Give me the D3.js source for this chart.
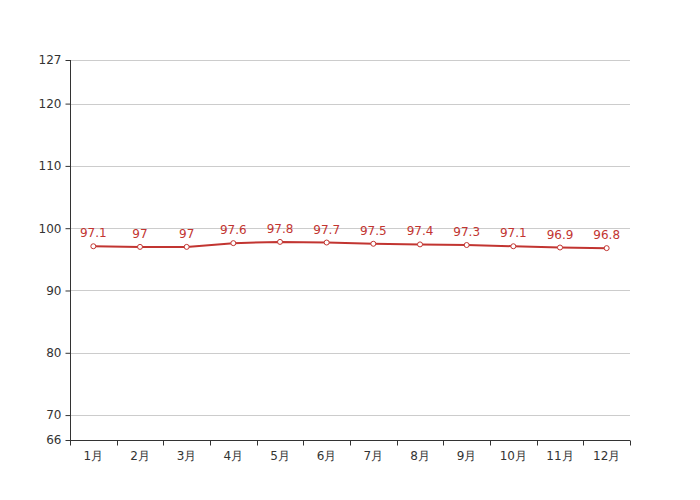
<!DOCTYPE html>
<html><head><meta charset="utf-8">
<script src="https://cdn.jsdelivr.net/npm/d3@7"></script>
<style>body{margin:0;background:#fff}svg{display:block}text{font-family:"DejaVu Sans",sans-serif}</style>
</head><body><svg id="c" width="700" height="500"></svg>
<script>
const categories = ["1月","2月","3月","4月","5月","6月","7月","8月","9月","10月","11月","12月"];
const values = [97.1, 97, 97, 97.6, 97.8, 97.7, 97.5, 97.4, 97.3, 97.1, 96.9, 96.8];
const yTicks = [66, 70, 80, 90, 100, 110, 120, 127];
const yDomain = [66, 127];

(function () {
const svg = d3.select("#c");
const mLeft = 70, mRight = 630, mTop = 60, mBottom = 440;
const x = d3.scaleBand().domain(categories).range([mLeft, mRight]);
const y = d3.scaleLinear().domain(yDomain).range([mBottom, mTop]);
const color = "#c23531";

// grid
svg.append("g").selectAll("line").data(yTicks.filter(t => t !== yDomain[0])).join("line")
  .attr("x1", mLeft).attr("x2", mRight)
  .attr("y1", d => Math.round(y(d)) + 0.5).attr("y2", d => Math.round(y(d)) + 0.5)
  .attr("stroke", "#ccc").attr("stroke-width", 1);

// y axis
const yAxis = svg.append("g").attr("transform", `translate(${mLeft + 0.5},0)`)
  .call(d3.axisLeft(y).tickValues(yTicks).tickSize(5).tickPadding(4).tickFormat(d3.format("d")));
yAxis.select(".domain").attr("stroke", "#333").attr("d", `M0,${mTop}V${mBottom}`);
yAxis.selectAll(".tick line").attr("stroke", "#333");
yAxis.selectAll(".tick text").attr("fill", "#333").attr("font-size", 12).attr("font-family", "DejaVu Sans");

// x axis
const xg = svg.append("g").attr("transform", `translate(0,${mBottom + 0.5})`);
xg.append("line").attr("x1", mLeft).attr("x2", mRight).attr("stroke", "#333");
const bounds = categories.map(c => x(c)).concat([mRight]);
xg.selectAll(".tk").data(bounds).join("line")
  .attr("x1", d => Math.round(d) + 0.5).attr("x2", d => Math.round(d) + 0.5)
  .attr("y1", 0).attr("y2", 5).attr("stroke", "#333");
xg.selectAll("text").data(categories).join("text")
  .attr("x", d => x(d) + x.bandwidth() / 2).attr("y", 19)
  .attr("text-anchor", "middle").attr("fill", "#333").attr("font-size", 12)
  .text(d => d);

// line
const cx = (d, i) => x(categories[i]) + x.bandwidth() / 2;
svg.append("path").datum(values)
  .attr("d", d3.line().x(cx).y(d => y(d)))
  .attr("fill", "none").attr("stroke", color).attr("stroke-width", 2);

svg.append("g").selectAll("circle").data(values).join("circle")
  .attr("cx", cx).attr("cy", d => y(d)).attr("r", 2.5)
  .attr("fill", "#fff").attr("stroke", color).attr("stroke-width", 1);

svg.append("g").selectAll("text").data(values).join("text")
  .attr("x", cx).attr("y", d => y(d) - 9)
  .attr("text-anchor", "middle").attr("fill", color).attr("font-size", 12)
  .text(d => d);
})();
</script></body></html>
